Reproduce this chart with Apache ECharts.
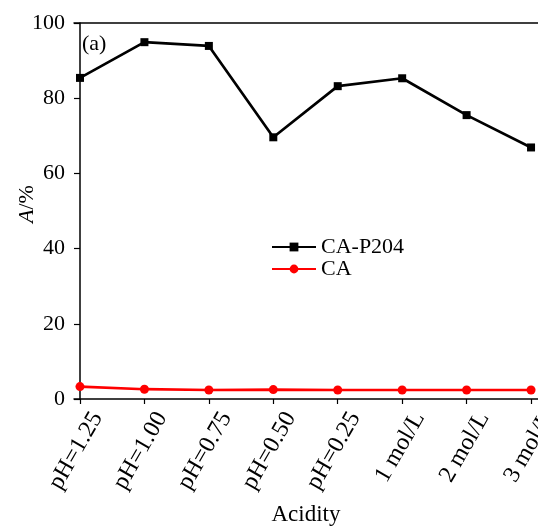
<!DOCTYPE html>
<html><head><meta charset="utf-8">
<script src="https://cdn.jsdelivr.net/npm/echarts@6/dist/echarts.min.js"></script>
<style>html,body{margin:0;padding:0;background:#fff}#c{width:538px;height:526px}</style>
</head><body><div id="c"></div>
<script>
const categories = ['pH=1.25','pH=1.00','pH=0.75','pH=0.50','pH=0.25','1 mol/L','2 mol/L','3 mol/L'];
const caP204 = [85.4, 94.9, 93.9, 69.6, 83.2, 85.3, 75.5, 66.9];
const ca = [3.3, 2.6, 2.4, 2.5, 2.4, 2.4, 2.4, 2.4];
const yTicks = [0, 20, 40, 60, 80, 100];
const FONT = '"Liberation Serif", "Times New Roman", serif';
const idx = categories.map((c, i) => i);
const chart = echarts.init(document.getElementById('c'));
chart.setOption({
  animation: false,
  textStyle: {fontFamily: FONT, color: '#000'},
  grid: {left: 74, right: 0, top: 23, bottom: 127, outerBoundsMode: 'none'},
  xAxis: [{
    type: 'value', min: -0.093, max: 7.108,
    name: 'Acidity', nameLocation: 'middle', nameGap: 104, nameMoveOverlap: false,
    nameTextStyle: {fontFamily: FONT, fontSize: 23, color: '#000'},
    axisLine: {lineStyle: {color: '#000', width: 1.5}},
    axisTick: {show: true, customValues: idx, length: 5, inside: false, lineStyle: {color: '#000', width: 1.2}},
    axisLabel: {customValues: idx, rotate: 60, fontFamily: FONT, fontSize: 24, color: '#000', margin: 5,
      verticalAlign: 'top', padding: [8, 0, 0, 0],
      formatter: v => categories[Math.round(v)]},
    splitLine: {show: false}
  }, {
    type: 'value', position: 'top', min: -0.093, max: 7.108,
    axisLine: {show: true, lineStyle: {color: '#000', width: 1.5}},
    axisTick: {show: false}, axisLabel: {show: false}, splitLine: {show: false}
  }],
  yAxis: {
    type: 'value', min: 0, max: 100, interval: 20,
    name: '{i|A}/%', nameLocation: 'middle', nameGap: 36, nameRotate: 90, nameMoveOverlap: false,
    nameTextStyle: {fontFamily: FONT, fontSize: 22, color: '#000', padding: [0, 0, 0, 14],
      rich: {i: {fontStyle: 'italic', fontFamily: FONT, fontSize: 22, color: '#000'}}},
    axisLine: {show: true, lineStyle: {color: '#000', width: 1.5}},
    axisTick: {show: true, length: 6, inside: false, lineStyle: {color: '#000', width: 1.2}},
    axisLabel: {fontFamily: FONT, fontSize: 22, color: '#000', margin: 9,
      formatter: v => yTicks.includes(v) ? String(v) : ''},
    splitLine: {show: false}
  },
  legend: {
    orient: 'vertical', left: 266, top: 231, itemWidth: 44, itemHeight: 11, itemGap: 0,
    textStyle: {fontFamily: FONT, fontSize: 22, color: '#000', lineHeight: 22},
    data: ['CA-P204', 'CA']
  },
  graphic: [{type: 'text', left: 82, top: 33, style: {text: '(a)', font: '22px ' + FONT, fill: '#000'}}],
  series: [
    {name: 'CA-P204', type: 'line', data: caP204.map((v, i) => [i, v]), color: '#000',
     symbol: 'rect', symbolSize: 8, lineStyle: {width: 2.7, color: '#000'}, itemStyle: {color: '#000'}},
    {name: 'CA', type: 'line', data: ca.map((v, i) => [i, v]), color: '#ff0000',
     symbol: 'circle', symbolSize: 9, lineStyle: {width: 2.7, color: '#ff0000'}, itemStyle: {color: '#ff0000'}}
  ]
});
</script></body></html>
